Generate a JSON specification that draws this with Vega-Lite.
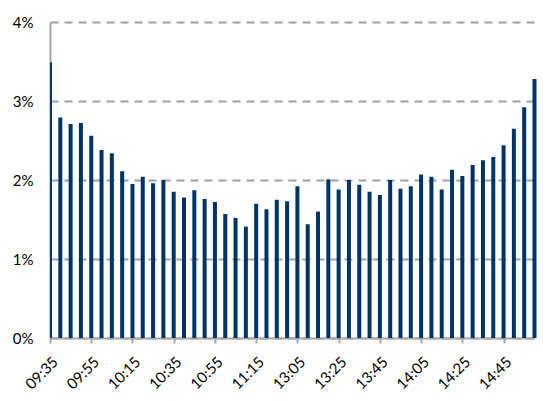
{
  "$schema": "https://vega.github.io/schema/vega-lite/v6.json",
  "width": 487,
  "height": 316,
  "autosize": {"type": "none"},
  "padding": {"left": 50, "top": 22, "right": 6, "bottom": 64},
  "background": "white",
  "config": {"view": {"stroke": null}, "font": "Lato"},
  "data": {"values": [
    {"t": "09:35", "v": 3.49}, {"t": "09:40", "v": 2.79}, {"t": "09:45", "v": 2.71}, {"t": "09:50", "v": 2.72},
    {"t": "09:55", "v": 2.56}, {"t": "10:00", "v": 2.38}, {"t": "10:05", "v": 2.34}, {"t": "10:10", "v": 2.11},
    {"t": "10:15", "v": 1.95}, {"t": "10:20", "v": 2.04}, {"t": "10:25", "v": 1.96}, {"t": "10:30", "v": 2.0},
    {"t": "10:35", "v": 1.85}, {"t": "10:40", "v": 1.78}, {"t": "10:45", "v": 1.87}, {"t": "10:50", "v": 1.76},
    {"t": "10:55", "v": 1.72}, {"t": "11:00", "v": 1.57}, {"t": "11:05", "v": 1.52}, {"t": "11:10", "v": 1.41},
    {"t": "11:15", "v": 1.7}, {"t": "11:20", "v": 1.63}, {"t": "11:25", "v": 1.75}, {"t": "11:30", "v": 1.73},
    {"t": "13:05", "v": 1.92}, {"t": "13:10", "v": 1.44}, {"t": "13:15", "v": 1.6}, {"t": "13:20", "v": 2.01},
    {"t": "13:25", "v": 1.88}, {"t": "13:30", "v": 2.0}, {"t": "13:35", "v": 1.94}, {"t": "13:40", "v": 1.85},
    {"t": "13:45", "v": 1.81}, {"t": "13:50", "v": 2.0}, {"t": "13:55", "v": 1.89}, {"t": "14:00", "v": 1.92},
    {"t": "14:05", "v": 2.07}, {"t": "14:10", "v": 2.04}, {"t": "14:15", "v": 1.88}, {"t": "14:20", "v": 2.13},
    {"t": "14:25", "v": 2.05}, {"t": "14:30", "v": 2.19}, {"t": "14:35", "v": 2.25}, {"t": "14:40", "v": 2.29},
    {"t": "14:45", "v": 2.44}, {"t": "14:50", "v": 2.65}, {"t": "14:55", "v": 2.92}, {"t": "15:00", "v": 3.28}
  ]},
  "mark": {"type": "bar", "width": 4, "color": "#003366", "clip": true},
  "encoding": {
    "x": {
      "field": "t", "type": "ordinal", "sort": null,
      "scale": {"type": "point", "padding": 0, "range": [0, 484.5]},
      "axis": {
        "title": null,
        "values": ["09:35", "09:55", "10:15", "10:35", "10:55", "11:15", "13:05", "13:25", "13:45", "14:05", "14:25", "14:45"],
        "labelAngle": -45, "labelFontSize": 15, "labelColor": "#000000",
        "labelAlign": "right", "labelBaseline": "middle",
        "labelOverlap": false, "labelFlush": false, "labelBound": false,
        "domainColor": "#a6a6a6", "domainWidth": 2,
        "tickColor": "#a6a6a6", "tickSize": 5, "tickWidth": 2,
        "labelPadding": 16, "labelOffset": 5, "grid": false
      }
    },
    "y": {
      "field": "v", "type": "quantitative",
      "scale": {"domain": [0, 4]},
      "axis": {
        "title": null, "values": [0, 1, 2, 3, 4],
        "labelExpr": "datum.value + '%'",
        "labelFontSize": 15, "labelColor": "#000000", "labelPadding": 17,
        "ticks": false,
        "domainColor": "#a6a6a6", "domainWidth": 2,
        "grid": true, "gridDash": [8, 6], "gridColor": "#a0a0a0", "gridWidth": 2
      }
    }
  }
}
